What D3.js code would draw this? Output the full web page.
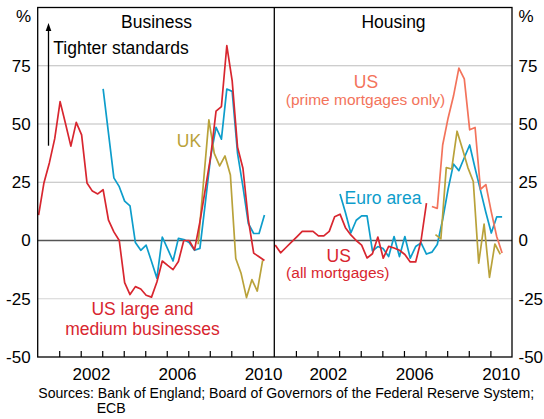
<!DOCTYPE html>
<html lang="en">
<head>
<meta charset="utf-8">
<title>Lending standards</title>
<script src="https://cdn.jsdelivr.net/npm/d3@7"></script>
<style>
  body { margin: 0; background: #fff; }
  svg text { font-family: "Liberation Sans", Arial, sans-serif; fill: #000; }
</style>
</head>
<body>
<div id="chart"></div>
<script>
// net % of lenders reporting tighter standards, quarterly
var xTickYears = [2002, 2006, 2010];
var yTicks = [-50, -25, 0, 25, 50, 75];

// US and euro area surveys: Jan/Apr/Jul/Oct.  UK: Mar/Jun/Sep/Dec
var busUS = [10.9, 24.8, 33.3, 43.7, 59.6, 50.2, 40.5, 50.7, 45.3, 24.7, 21.2, 20, 21.8, 8.7, 3.7, 0,
  -18.1, -23.2, -19.8, -20.8, -23.5, -24.3, -17.8, -8.8, -10.7, -12.5, -9, 0, 0, -4, 8, 22, 36,
  55.5, 57.5, 83.6, 68.5, 40, 31, 9, -5.4, -7, -8.6];            // from Jan 2000
var busEuro = [65.1, 46, 26.9, 23.1, 16.9, 14.9, -0.9, -4.2, -2, -9, -16.2, 1.5, -3.6, -8.8, 0.9,
  0.4, -0.9, -4.2, -3.4, 16, 36, 48.6, 43.5, 65, 64, 37.4, 23.1, 7.3, 3, 3, 10.9];   // from Jan 2003
var busUK = [-1.6, 25, 51.8, 37.4, 32, 36.3, 28.1, -7.7, -14.2, -24.5, -16.8, -21.7, -8.5]; // from Jun 2007

var houUSall = [-1.9, -5.3, -3, -0.7, 1.6, 3.9, 3.9, 3.9, 2, 2, 3.9, 10.2, 11.3, 5.5, 2.4, 0, -2,
  -7.5, -5.7, 1.5, -7.6, -2.5, -3.2, -4.2, -6, -9.2, -9.2, 0, 16];   // from Jan 2000
var houUSprime = [14.6, 13.8, 41, 52.5, 62, 74, 69.4, 47.5, 48.5, 22, 24, 12.3, 1.7, -5.4]; // from Apr 2007
var houEuro = [20, 12, 3.2, 8.7, 10.6, 10.6, -4.5, -2.6, -3.5, -6.9, 1.7, -6.9, 1.7, -7.6, -2.6,
  -1, -5.8, -5, -1.7, 9, 22, 32.8, 30, 35.5, 41, 31, 21.5, 12, 3.2, 10.1, 10.1];   // from Jan 2003
var houUK = [2.5, 0.7, 31.3, 30.7, 46.9, 39.3, 31.3, 25.3, -9.7, 7, -15.8, -1.5, -6]; // from Jun 2007

var RED = "#d8262f", BLUE = "#0d9dcb", GOLD = "#b9a23a", SALMON = "#f3735b";

function quarterly(values, year, month) {
  return values.map(function(v, i) {
    return { t: year + (month + 3 * i + 0.5) / 12, v: v };
  });
}

var W = 544, H = 419;
var pLeft = 37.7, pMid = 274.3, pRight = 512, pTop = 7.5, pBottom = 357;

var svg = d3.select("#chart").append("svg")
  .attr("width", W).attr("height", H);

var y = d3.scaleLinear().domain([-50, 100]).range([pBottom, pTop]);
var xL = d3.scaleLinear().domain([2000, 2011]).range([pLeft, pMid]);
var xR = d3.scaleLinear().domain([2000, 2011]).range([pMid, pRight]);

// gridlines across both panels
svg.append("g").selectAll("line")
  .data(yTicks.filter(function(d) { return d != -50; }))
  .enter().append("line")
  .attr("x1", pLeft).attr("x2", pRight)
  .attr("y1", function(d) { return y(d); })
  .attr("y2", function(d) { return y(d); })
  .style("stroke", function(d) { return d == 0 ? "#555" : (d < 0 ? "#d4d4d4" : "#bdbdbd"); })
  .style("stroke-width", function(d) { return d == 0 ? 1.4 : 1.2; });

function drawLine(x, data, color) {
  var line = d3.line()
    .x(function(d) { return x(d.t); })
    .y(function(d) { return y(d.v); });
  svg.append("path")
    .datum(data)
    .attr("d", line)
    .style("fill", "none")
    .style("stroke", color)
    .style("stroke-width", 1.7)
    .style("stroke-linejoin", "round");
}

drawLine(xL, quarterly(busEuro, 2003, 0), BLUE);
drawLine(xL, quarterly(busUK, 2007, 5), GOLD);
drawLine(xL, quarterly(busUS, 2000, 0), RED);

drawLine(xR, quarterly(houEuro, 2003, 0), BLUE);
drawLine(xR, quarterly(houUK, 2007, 5), GOLD);
drawLine(xR, quarterly(houUSprime, 2007, 3), SALMON);
drawLine(xR, quarterly(houUSall, 2000, 0), RED);

// frame + divider
svg.append("rect")
  .attr("x", pLeft).attr("y", pTop)
  .attr("width", pRight - pLeft).attr("height", pBottom - pTop)
  .style("fill", "none").style("stroke", "#000").style("stroke-width", 1.3);
svg.append("line")
  .attr("x1", pMid).attr("x2", pMid).attr("y1", pTop).attr("y2", pBottom)
  .style("stroke", "#000").style("stroke-width", 1.3);

// year ticks (inside, at year boundaries)
[xL, xR].forEach(function(x) {
  var ax = svg.append("g")
    .attr("transform", "translate(0," + pBottom + ")")
    .call(d3.axisBottom(x).tickValues(d3.range(2001, 2011)).tickSize(-6).tickFormat(""));
  ax.select(".domain").remove();
  ax.selectAll(".tick line").style("stroke", "#000").style("stroke-width", 1.2);

  svg.append("g").selectAll("text")
    .data(xTickYears)
    .enter().append("text")
    .attr("x", function(d) { return x(d + 0.5); })
    .attr("y", 380)
    .attr("text-anchor", "middle")
    .style("font-size", "17px")
    .text(function(d) { return d; });
});

// y axes on both sides (plain hyphen for negatives)
var fmt = function(d) { return String(d); };
var yl = svg.append("g")
  .attr("transform", "translate(" + pLeft + ",0)")
  .call(d3.axisLeft(y).tickValues(yTicks).tickFormat(fmt).tickSize(0).tickPadding(7));
var yr = svg.append("g")
  .attr("transform", "translate(" + pRight + ",0)")
  .call(d3.axisRight(y).tickValues(yTicks).tickFormat(fmt).tickSize(0).tickPadding(6.5));
[yl, yr].forEach(function(g) {
  g.select(".domain").remove();
  g.attr("font-family", null).attr("font-size", null);
  g.selectAll("text").style("font-size", "17px");
});

svg.append("text").attr("x", 31).attr("y", 21.5).attr("text-anchor", "end")
  .style("font-size", "17px").text("%");
svg.append("text").attr("x", 518.5).attr("y", 21.5)
  .style("font-size", "17px").text("%");

// panel titles
svg.append("text").attr("x", (pLeft + pMid) / 2 + 0.5).attr("y", 28).attr("text-anchor", "middle")
  .style("font-size", "17.5px").text("Business");
svg.append("text").attr("x", 393.5).attr("y", 28).attr("text-anchor", "middle")
  .style("font-size", "17.5px").text("Housing");

// tighter standards arrow
svg.append("line")
  .attr("x1", 48.5).attr("x2", 48.5).attr("y1", 145.7).attr("y2", 29)
  .style("stroke", "#000").style("stroke-width", 1.3);
svg.append("path")
  .attr("d", "M48.5,23 L45.7,31 L51.3,31 Z")
  .style("fill", "#000");
svg.append("text").attr("x", 53.3).attr("y", 54)
  .style("font-size", "17.5px").text("Tighter standards");

// series labels
function label(x, yy, txt, color, size) {
  svg.append("text").attr("x", x).attr("y", yy).attr("text-anchor", "middle")
    .style("font-size", size || "17.5px").style("fill", color).text(txt);
}
label(189, 147, "UK", GOLD);
label(142.5, 315, "US large and", RED);
label(142.5, 335, "medium businesses", RED);
label(366, 87.5, "US", SALMON);
label(365.5, 105, "(prime mortgages only)", SALMON, "15.5px");
label(383, 203.5, "Euro area", BLUE);
label(338.7, 261.7, "US", RED);
label(337.8, 278, "(all mortgages)", RED, "15.5px");

// sources
svg.append("text").attr("x", 38.3).attr("y", 398)
  .style("font-size", "14.1px")
  .text("Sources: Bank of England; Board of Governors of the Federal Reserve System;");
svg.append("text").attr("x", 96.7).attr("y", 413)
  .style("font-size", "14.1px").text("ECB");
</script>
</body>
</html>
